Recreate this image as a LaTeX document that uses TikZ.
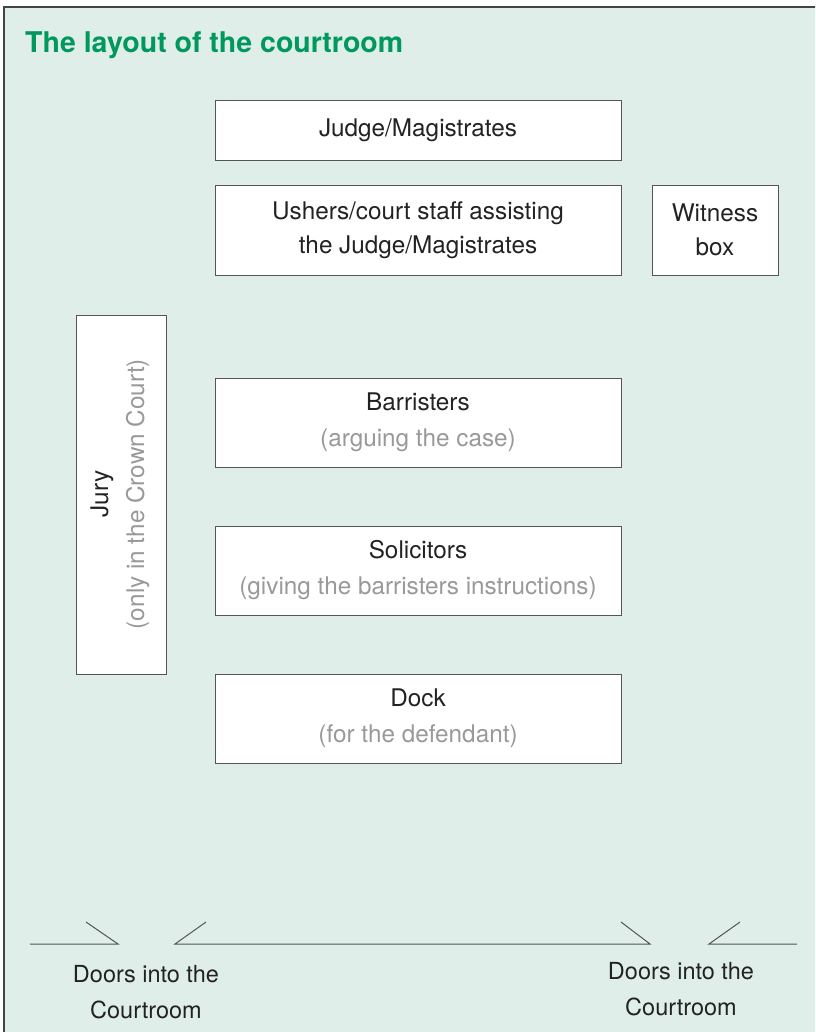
\documentclass[tikz,border=0pt]{standalone}
\usepackage{fontspec}
\setmainfont{TeX Gyre Heros}
\definecolor{bgc}{HTML}{E0EEE9}
\definecolor{titlec}{HTML}{00985C}
\definecolor{txt}{HTML}{222222}
\definecolor{sub}{HTML}{999999}
\definecolor{edge}{HTML}{555555}
\begin{document}
\begin{tikzpicture}[x=1pt,y=-1pt,
  room/.style={draw=edge,line width=0.9pt,fill=white,inner sep=0pt,text=txt,align=center,
    font=\fontsize{24.3}{34}\selectfont},
  wall/.style={draw=edge,line width=1pt},
  lbl/.style={text=txt,align=center,font=\fontsize{23.5}{36}\selectfont}]
\clip (0,0) rectangle (815,1032);
\useasboundingbox (0,0) rectangle (815,1032);
\fill[bgc] (4,7) rectangle (830,1050);
\draw[draw=edge!80!black,line width=1.2pt] (4,1050) -- (4,7) -- (830,7);
\node[anchor=west,text=titlec,inner sep=0pt,font=\fontsize{28.5}{34}\selectfont\bfseries] (title) at (25,45) {The layout of the courtroom};
% boxes
\node[room,minimum width=406,minimum height=60] (judge) at (418,130) {Judge/Magistrates};
\node[room,minimum width=406,minimum height=90] (ushers) at (418,230) {Ushers/court staff assisting\\the Judge/Magistrates};
\node[room,minimum width=126,minimum height=90] (witness) at (715,230) {Witness\\box};
\node[room,minimum width=406,minimum height=89] (barr) at (418,422.5) {Barristers\\[2pt]\textcolor{sub}{(arguing the case)}};
\node[room,minimum width=406,minimum height=89] (solic) at (418,570.5) {Solicitors\\[2pt]\textcolor{sub}{(giving the barristers instructions)}};
\node[room,minimum width=406,minimum height=89] (dock) at (418,718.5) {Dock\\[2pt]\textcolor{sub}{(for the defendant)}};
\node[room,minimum width=90,minimum height=359] (jury) at (121,494.5) {};
\node[rotate=90,text=txt,align=center,font=\fontsize{24.3}{34}\selectfont] (jurytxt) at (120,494) {Jury\\[2pt]\textcolor{sub}{(only in the Crown Court)}};
% walls and doors
\coordinate (w1) at (30,944);
\coordinate (d1a) at (118,944);
\coordinate (d1at) at (86,922);
\coordinate (d1b) at (175,944);
\coordinate (d1bt) at (206,922);
\coordinate (d2a) at (650,944);
\coordinate (d2at) at (621,922);
\coordinate (d2b) at (709,944);
\coordinate (d2bt) at (740,922);
\coordinate (w2) at (797,944);
\draw[wall] (w1) -- (d1a) -- (d1at);
\draw[wall] (d1bt) -- (d1b) -- (d2a) -- (d2at);
\draw[wall] (d2bt) -- (d2b) -- (w2);
\node[lbl] (door1) at (146,992) {Doors into the\\Courtroom};
\node[lbl] (door2) at (681,989) {Doors into the\\Courtroom};
\end{tikzpicture}
\end{document}
